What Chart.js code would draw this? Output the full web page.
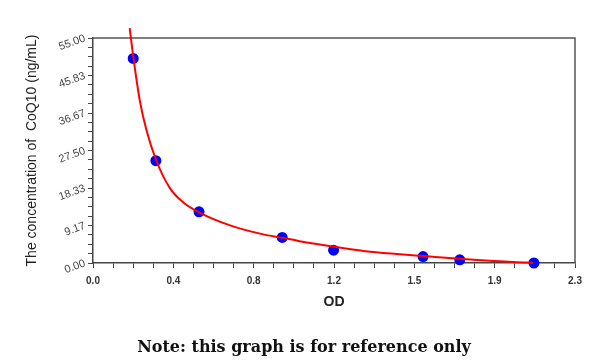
<!DOCTYPE html>
<html><head><meta charset="utf-8">
<script src="https://cdn.jsdelivr.net/npm/chart.js@4/dist/chart.umd.min.js"></script>
<style>
html,body{margin:0;padding:0;background:#fff;}
#wrap{position:relative;width:600px;height:360px;}
#note{position:absolute;left:4px;width:600px;top:337px;text-align:center;font:bold 16px "DejaVu Serif",serif;color:#111;}
</style></head><body>
<div id="wrap"><canvas id="c" width="600" height="360"></canvas><div id="note">Note: this graph is for reference only</div></div>
<script>
// Standard points
const odValues   = [0.192, 0.30, 0.506, 0.903, 1.148, 1.575, 1.75, 2.104];
const concValues = [50, 25, 12.5, 6.25, 3.125, 1.5625, 0.78, 0];
// Fitted curve
const curveOD   = [0.175, 0.192, 0.224, 0.255, 0.30, 0.367, 0.431, 0.506, 0.654, 0.8125, 0.90, 0.98, 1.15, 1.30, 1.45, 1.58, 1.75, 1.94, 2.07, 2.10];
const curveConc = [57.4, 50.5, 39.5, 32.5, 25.3, 18.3, 14.8, 12.4, 9.2, 7.0, 6.2, 5.4, 4.0, 2.9, 2.2, 1.7, 1.05, 0.4, 0.12, 0.0];
// Axis
const xTickLabels = ['0.0', '0.4', '0.8', '1.2', '1.5', '1.9', '2.3'];
const yTickLabels = ['0.00', '9.17', '18.33', '27.50', '36.67', '45.83', '55.00'];
const xMax = 2.3, yMax = 55;
const minorPerMajor = 4;

const pts = odValues.map((x, i) => ({x, y: concValues[i]}));
const curve = curveOD.map((x, i) => ({x, y: curveConc[i]}));

function buildTicks(max, n) {
  const total = n * minorPerMajor;
  return Array.from({length: total + 1}, (_, i) => ({value: max * i / total}));
}

const frame = {
  id: 'frame',
  beforeDatasetsDraw(chart) {
    const {ctx, chartArea: a} = chart;
    ctx.save();
    ctx.strokeStyle = '#555';
    ctx.lineWidth = 1.5;
    ctx.beginPath();
    ctx.moveTo(a.left, a.top);
    ctx.lineTo(a.right, a.top);
    ctx.lineTo(a.right, a.bottom);
    ctx.stroke();
    ctx.restore();
  }
};

new Chart(document.getElementById('c'), {
  type: 'scatter',
  data: {
    datasets: [
      {type: 'line', data: curve, borderColor: '#ff0000', borderWidth: 2, pointRadius: 0,
       cubicInterpolationMode: 'monotone', fill: false, clip: false, order: 0},
      {data: pts, backgroundColor: '#0000ff', borderWidth: 0, pointRadius: 5.5, clip: false, order: 1}
    ]
  },
  options: {
    responsive: false,
    devicePixelRatio: 1,
    animation: false,
    layout: {padding: {left: 20, top: 38, right: 25, bottom: 45}},
    plugins: {legend: {display: false}, tooltip: {enabled: false}},
    scales: {
      x: {
        type: 'linear', min: 0, max: xMax,
        afterBuildTicks: s => { s.ticks = buildTicks(xMax, xTickLabels.length - 1); },
        afterFit: s => { s.height = 52; },
        grid: {drawOnChartArea: false, drawTicks: true, tickLength: 5, color: '#444'},
        border: {display: true, color: '#444', width: 1.5},
        ticks: {autoSkip: false, maxRotation: 0, minRotation: 0, padding: 7, color: '#333',
          font: {family: 'Liberation Sans, Arial', size: 10, weight: 'bold'},
          callback: (v, i) => i % minorPerMajor === 0 ? xTickLabels[i / minorPerMajor] : ''},
        title: {display: true, text: 'OD', color: '#222', font: {family: 'Liberation Sans, Arial', size: 14, weight: 'bold'}}
      },
      y: {
        type: 'linear', min: 0, max: yMax,
        afterBuildTicks: s => { s.ticks = buildTicks(yMax, yTickLabels.length - 1); },
        afterFit: s => { s.width = 73; },
        grid: {drawOnChartArea: false, drawTicks: true, tickLength: 5, color: '#444'},
        border: {display: true, color: '#444', width: 1.5},
        ticks: {autoSkip: false, minRotation: 20, maxRotation: 20, padding: 3, color: '#444',
          font: {family: 'Liberation Sans, Arial', size: 11},
          callback: (v, i) => i % minorPerMajor === 0 ? yTickLabels[i / minorPerMajor] : ''},
        title: {display: true, text: 'The concentration of  CoQ10 (ng/mL)', color: '#222', font: {family: 'Liberation Sans, Arial', size: 14}}
      }
    }
  },
  plugins: [frame]
});
</script>
</body></html>
